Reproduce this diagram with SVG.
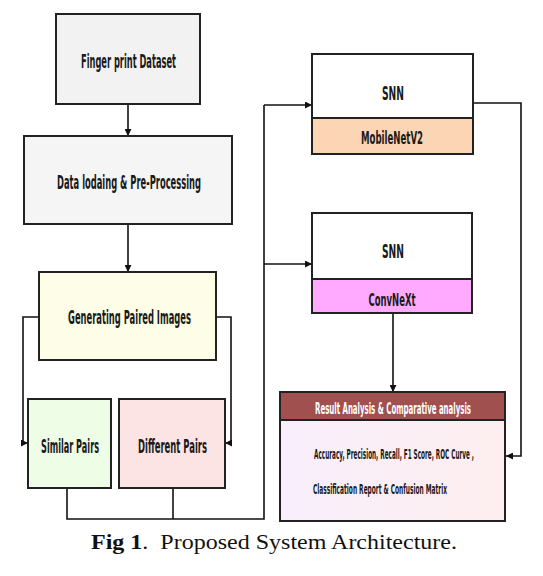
<svg xmlns="http://www.w3.org/2000/svg" width="543" height="576" viewBox="0 0 543 576">
<style>
.box{stroke:#222;stroke-width:2}
.lbl{font-family:"DejaVu Sans Condensed","Liberation Sans Narrow","Liberation Sans",sans-serif;font-weight:bold;fill:#1a1a1a;text-anchor:middle}
.big{font-size:20px}
.mid{font-size:17px}
.sm{font-size:14px}
.wire{fill:none;stroke:#111;stroke-width:1.6}
.cap{font-family:"Liberation Serif",serif;font-size:21px;fill:#111}
</style>
<defs>
<marker id="ah" viewBox="0 0 10 10" refX="10" refY="5" markerWidth="7" markerHeight="7" markerUnits="userSpaceOnUse" orient="auto">
<path d="M0,0 L10,5 L0,10 z" fill="#111"/>
</marker>
<linearGradient id="resg" x1="0" y1="0" x2="1" y2="0">
<stop offset="0" stop-color="#f8eefc"/>
<stop offset="1" stop-color="#fdeeee"/>
</linearGradient>
</defs>
<rect width="543" height="576" fill="#fff"/>
<g id="connectors">
<path class="wire" d="M128,104 V136" marker-end="url(#ah)"/>
<path class="wire" d="M128,224 V272" marker-end="url(#ah)"/>
<path class="wire" d="M39,317 H23 V443 H28" marker-end="url(#ah)"/>
<path class="wire" d="M216,317 H231 V443 H225" marker-end="url(#ah)"/>
<path class="wire" d="M67,488 V519 H264 V105"/>
<path class="wire" d="M173,488 V519"/>
<path class="wire" d="M264,105 H312" marker-end="url(#ah)"/>
<path class="wire" d="M264,264 H312" marker-end="url(#ah)"/>
<path class="wire" d="M473,103 H521 V456 H506" marker-end="url(#ah)"/>
<path class="wire" d="M393,313 V392" marker-end="url(#ah)"/>
</g>
<g id="dataset">
<rect class="box" x="56" y="14" width="144" height="90" fill="#f2f2f2"/>
<text class="lbl big" transform="translate(128.5,68) scale(0.5,1)" textLength="190" lengthAdjust="spacingAndGlyphs">Finger print Dataset</text>
</g>
<g id="preprocess">
<rect class="box" x="24" y="136" width="208" height="88" fill="#f5f5f5"/>
<text class="lbl big" transform="translate(129,189) scale(0.5,1)" textLength="288" lengthAdjust="spacingAndGlyphs">Data lodaing &amp; Pre-Processing</text>
</g>
<g id="pairs">
<rect class="box" x="39" y="272" width="177" height="88" fill="#fdfde8"/>
<text class="lbl big" transform="translate(129.5,324) scale(0.5,1)" textLength="246" lengthAdjust="spacingAndGlyphs">Generating Paired Images</text>
</g>
<g id="similar">
<rect class="box" x="28" y="399" width="83" height="89" fill="#eefde6"/>
<text class="lbl big" transform="translate(70,453) scale(0.5,1)" textLength="116" lengthAdjust="spacingAndGlyphs">Similar Pairs</text>
</g>
<g id="different">
<rect class="box" x="119" y="399" width="106" height="89" fill="#fce4e4"/>
<text class="lbl big" transform="translate(172.5,453) scale(0.5,1)" textLength="138" lengthAdjust="spacingAndGlyphs">Different Pairs</text>
</g>
<g id="snn1">
<rect class="box" x="312" y="54" width="161" height="64" fill="#ffffff"/>
<rect class="box" x="312" y="118" width="161" height="36" fill="#fcd5b4"/>
<text class="lbl big" transform="translate(393,100) scale(0.5,1)" textLength="44" lengthAdjust="spacingAndGlyphs">SNN</text>
<text class="lbl mid" transform="translate(392,144) scale(0.5,1)" textLength="124" lengthAdjust="spacingAndGlyphs">MobileNetV2</text>
</g>
<g id="snn2">
<rect class="box" x="312" y="213" width="160" height="66" fill="#ffffff"/>
<rect class="box" x="312" y="279" width="160" height="34" fill="#ffaaff"/>
<text class="lbl big" transform="translate(393,258) scale(0.5,1)" textLength="44" lengthAdjust="spacingAndGlyphs">SNN</text>
<text class="lbl mid" transform="translate(392,306) scale(0.5,1)" textLength="94" lengthAdjust="spacingAndGlyphs">ConvNeXt</text>
</g>
<g id="results">
<rect class="box" x="280" y="392" width="225" height="129" fill="url(#resg)"/>
<rect class="box" x="280" y="392" width="225" height="28" fill="#a0504f"/>
<text class="lbl" style="fill:#fff;font-size:16px" transform="translate(393,414) scale(0.5,1)" textLength="312" lengthAdjust="spacingAndGlyphs">Result Analysis &amp; Comparative analysis</text>
<text class="lbl sm" transform="translate(394,459) scale(0.5,1)" textLength="320" lengthAdjust="spacingAndGlyphs">Accuracy, Precision, Recall, F1 Score, ROC Curve ,</text>
<text class="lbl sm" transform="translate(380,494) scale(0.5,1)" textLength="268" lengthAdjust="spacingAndGlyphs">Classification Report &amp; Confusion Matrix</text>
</g>
<text class="cap" x="91" y="549" textLength="366" lengthAdjust="spacingAndGlyphs"><tspan font-weight="bold">Fig 1</tspan>.&#160; Proposed System Architecture.</text>
</svg>
